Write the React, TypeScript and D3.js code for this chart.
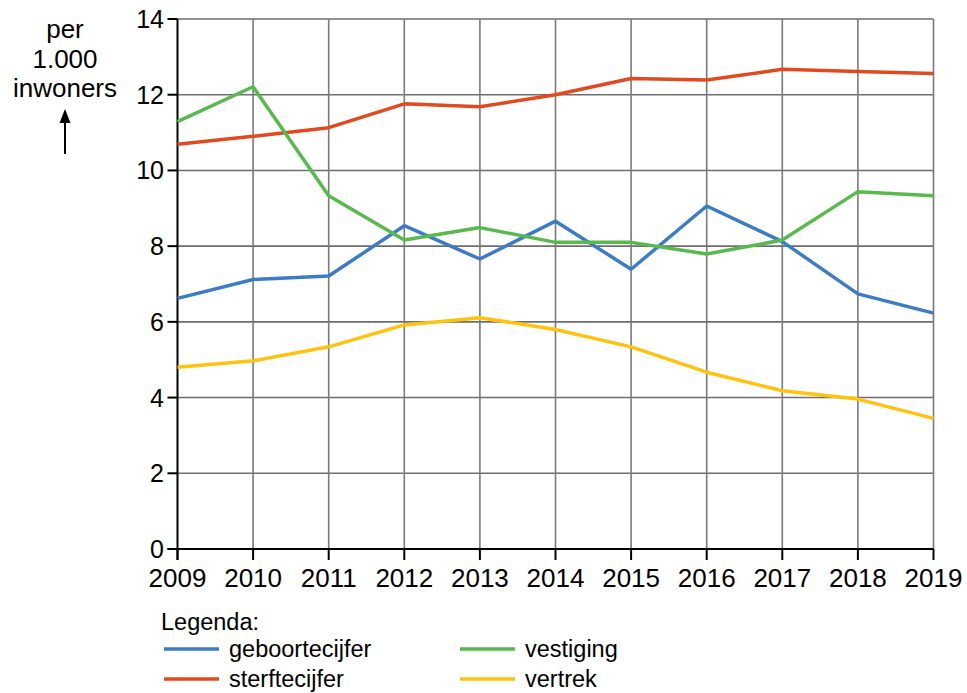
import React from "react";
import * as d3 from "d3";

const years = [2009, 2010, 2011, 2012, 2013, 2014, 2015, 2016, 2017, 2018, 2019];
const geboortecijfer = [6.62, 7.12, 7.21, 8.54, 7.66, 8.66, 7.39, 9.06, 8.12, 6.74, 6.23];
const sterftecijfer = [10.69, 10.9, 11.13, 11.76, 11.68, 12.0, 12.43, 12.39, 12.67, 12.61, 12.56];
const vestiging = [11.29, 12.21, 9.33, 8.16, 8.49, 8.1, 8.1, 7.79, 8.16, 9.44, 9.33];
const vertrek = [4.8, 4.97, 5.34, 5.92, 6.11, 5.8, 5.34, 4.67, 4.18, 3.96, 3.45];
const yTicks = [0, 2, 4, 6, 8, 10, 12, 14];

const series = [
  { name: "geboortecijfer", values: geboortecijfer, color: "#3b7cc4" },
  { name: "sterftecijfer", values: sterftecijfer, color: "#e2491f" },
  { name: "vestiging", values: vestiging, color: "#58b94e" },
  { name: "vertrek", values: vertrek, color: "#ffc20e" },
];

const W = 967;
const H = 693;
const FONT = "'Liberation Sans', Arial, sans-serif";

export default function App() {
  const x = d3.scaleLinear().domain([2009, 2019]).range([177.5, 933.5]);
  const y = d3.scaleLinear().domain([0, 14]).range([549, 19]);

  const line = d3
    .line<number>()
    .x((_, i) => x(years[i]))
    .y((d) => y(d));

  // legend layout: two columns, two rows
  const legendPos = [
    { lx: 164, ly: 649 },
    { lx: 164, ly: 679 },
    { lx: 460, ly: 649 },
    { lx: 460, ly: 679 },
  ];

  return (
    <svg
      width={W}
      height={H}
      style={{ position: "absolute", left: 0, top: 0, background: "#fff" }}
      fontFamily={FONT}
    >
      {/* grid */}
      {yTicks.slice(1).map((t) => (
        <line key={"gy" + t} x1={x(2009)} x2={x(2019)} y1={y(t)} y2={y(t)} stroke="#6e6e6e" strokeWidth={1.6} />
      ))}
      {years.slice(1).map((yr) => (
        <line key={"gx" + yr} x1={x(yr)} x2={x(yr)} y1={y(14)} y2={y(0)} stroke="#7a7a7a" strokeWidth={1.6} />
      ))}

      {/* axes */}
      <line x1={x(2009)} x2={x(2009)} y1={y(14)} y2={y(0) + 11} stroke="#000" strokeWidth={2} />
      <line x1={x(2009) - 10} x2={x(2019)} y1={y(0)} y2={y(0)} stroke="#000" strokeWidth={2} />
      {yTicks.map((t) => (
        <g key={"ty" + t}>
          <line x1={x(2009) - 10} x2={x(2009)} y1={y(t)} y2={y(t)} stroke="#000" strokeWidth={2} />
          <text x={164} y={y(t)} dy="0.36em" textAnchor="end" fontSize={25}>
            {t}
          </text>
        </g>
      ))}
      {years.map((yr) => (
        <g key={"tx" + yr}>
          <line x1={x(yr)} x2={x(yr)} y1={y(0)} y2={y(0) + 11} stroke="#000" strokeWidth={2} />
          <text x={x(yr)} y={587} textAnchor="middle" fontSize={26}>
            {yr}
          </text>
        </g>
      ))}

      {/* axis title */}
      <g fontSize={26} textAnchor="middle">
        <text x={65} y={38}>per</text>
        <text x={65} y={68}>1.000</text>
        <text x={65} y={97}>inwoners</text>
      </g>
      <line x1={65} x2={65} y1={120} y2={154} stroke="#000" strokeWidth={2} />
      <path d="M65,109 L59.5,123 L70.5,123 Z" fill="#000" />

      {/* series */}
      {series.map((s) => (
        <path key={s.name} d={line(s.values) || ""} fill="none" stroke={s.color} strokeWidth={3.5} strokeLinejoin="round" />
      ))}

      {/* legend */}
      <text x={161} y={630} fontSize={23.5}>
        Legenda:
      </text>
      {series.map((s, i) => (
        <g key={"lg" + s.name}>
          <line x1={legendPos[i].lx} x2={legendPos[i].lx + 55} y1={legendPos[i].ly} y2={legendPos[i].ly} stroke={s.color} strokeWidth={3.5} />
          <text x={legendPos[i].lx + 65} y={legendPos[i].ly + 8} fontSize={23.5}>
            {s.name}
          </text>
        </g>
      ))}
    </svg>
  );
}
